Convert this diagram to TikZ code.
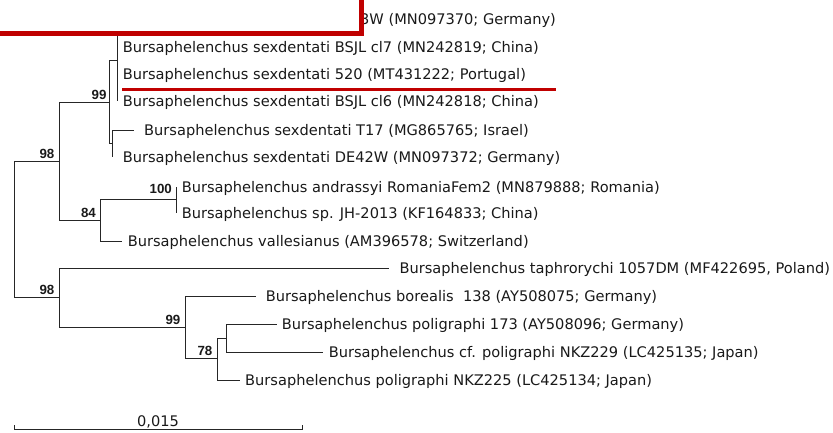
\documentclass[tikz,border=0pt]{standalone}
\usepackage{fontspec}
\setmainfont{DejaVu Sans}
\newfontfamily\bootfont{Liberation Sans}
\definecolor{markred}{HTML}{C00000}
\begin{document}
\begin{tikzpicture}[x=1pt,y=-1pt,
  branch/.style={draw=black!85, line width=0.8pt},
  taxon/.style={anchor=west, inner sep=0pt, text height=10.6pt, text depth=0pt,
    font=\fontsize{14.6}{16}\selectfont, text=black!90},
  boot/.style={anchor=base east, inner sep=0pt,
    font=\bootfont\bfseries\fontsize{13.3}{15}\selectfont, text=black!90},
  marker/.style={draw=markred, line width=5pt},
  underl/.style={draw=markred, line width=3.5pt},
]
\useasboundingbox (0,0) rectangle (833,432);

% tips
\coordinate (t1) at (117,19);
\coordinate (t2) at (117,47);
\coordinate (t3) at (117,74);
\coordinate (t4) at (117,101);
\coordinate (t5) at (133.5,130);
\coordinate (t6) at (112,157);
\coordinate (t7) at (176,187);
\coordinate (t8) at (176,213);
\coordinate (t9) at (122,241);
\coordinate (t10) at (389,268);
\coordinate (t11) at (256,296);
\coordinate (t12) at (276.5,324);
\coordinate (t13) at (323,352);
\coordinate (t14) at (240,380);
% internal nodes
\coordinate (cA) at (117,60);
\coordinate (cB) at (112,143);
\coordinate (n99a) at (109,102);
\coordinate (n100) at (176,199);
\coordinate (n84) at (100,220);
\coordinate (n98a) at (59,161);
\coordinate (root) at (14,229);
\coordinate (nP) at (226,338);
\coordinate (n78) at (217,358);
\coordinate (n99b) at (185,327);
\coordinate (n98b) at (59,297);

% branches
\draw[branch] (root) |- (n98a);
\draw[branch] (root) |- (n98b);
\draw[branch] (n98a) |- (n99a);
\draw[branch] (n98a) |- (n84);
\draw[branch] (n99a) |- (cA);
\draw[branch] (n99a) |- (cB);
\draw[branch] (cA) |- (t1);
\draw[branch] (cA) |- (t2);
\draw[branch] (cA) |- (t3);
\draw[branch] (cA) |- (t4);
\draw[branch] (cB) |- (t5);
\draw[branch] (cB) |- (t6);
\draw[branch] (n84) |- (n100);
\draw[branch] (n84) |- (t9);
\draw[branch] (n100) |- (t7);
\draw[branch] (n100) |- (t8);
\draw[branch] (n98b) |- (t10);
\draw[branch] (n98b) |- (n99b);
\draw[branch] (n99b) |- (t11);
\draw[branch] (n99b) |- (n78);
\draw[branch] (n78) |- (nP);
\draw[branch] (n78) |- (t14);
\draw[branch] (nP) |- (t12);
\draw[branch] (nP) |- (t13);

% taxon labels
\node[taxon] (L1) at (360,19) {3W (MN097370; Germany)};
\node[taxon] (L2) at (122.6,47) {Bursaphelenchus sexdentati BSJL cl7 (MN242819; China)};
\node[taxon] (L3) at (122.6,74) {Bursaphelenchus sexdentati 520 (MT431222; Portugal)};
\node[taxon] (L4) at (122.6,101) {Bursaphelenchus sexdentati BSJL cl6 (MN242818; China)};
\node[taxon] (L5) at (144,130) {Bursaphelenchus sexdentati T17 (MG865765; Israel)};
\node[taxon] (L6) at (122.6,157) {Bursaphelenchus sexdentati DE42W (MN097372; Germany)};
\node[taxon] (L7) at (181.6,187) {Bursaphelenchus andrassyi RomaniaFem2 (MN879888; Romania)};
\node[taxon] (L8) at (181.6,213) {Bursaphelenchus sp. JH-2013 (KF164833; China)};
\node[taxon] (L9) at (127.6,241) {Bursaphelenchus vallesianus (AM396578; Switzerland)};
\node[taxon] (L10) at (399.3,268) {Bursaphelenchus taphrorychi 1057DM (MF422695, Poland)};
\node[taxon] (L11) at (265.6,296) {Bursaphelenchus borealis~~138 (AY508075; Germany)};
\node[taxon] (L12) at (281.6,324) {Bursaphelenchus poligraphi 173 (AY508096; Germany)};
\node[taxon] (L13) at (328.6,352) {Bursaphelenchus cf. poligraphi NKZ229 (LC425135; Japan)};
\node[taxon] (L14) at (245,380) {Bursaphelenchus poligraphi NKZ225 (LC425134; Japan)};

% bootstrap values
\node[boot] (b99a) at (106.7,99.5) {99};
\node[boot] (b98a) at (54.5,158.5) {98};
\node[boot] (b84) at (96,217) {84};
\node[boot] (b100) at (172,193.5) {100};
\node[boot] (b98b) at (54.5,294) {98};
\node[boot] (b99b) at (180.5,324) {99};
\node[boot] (b78) at (212.5,355) {78};

% red highlight box and underline
\fill[white] (0,0) rectangle (361,33);
\draw[marker] (0,33) -| (361,0);
\coordinate (u0) at (122,89.5);
\coordinate (u1) at (555.5,89.5);
\draw[underl] (u0) -- (u1);

% scale bar
\coordinate (s0) at (14,429);
\coordinate (s1) at (302,429);
\draw[branch] ([yshift=4pt]s0) -- (s0) -- (s1) -- ([yshift=4pt]s1);
\node[anchor=base, inner sep=0pt, font=\fontsize{14.6}{16}\selectfont, text=black!90] (scale) at (158,426.5) {0,015};
\end{tikzpicture}
\end{document}
